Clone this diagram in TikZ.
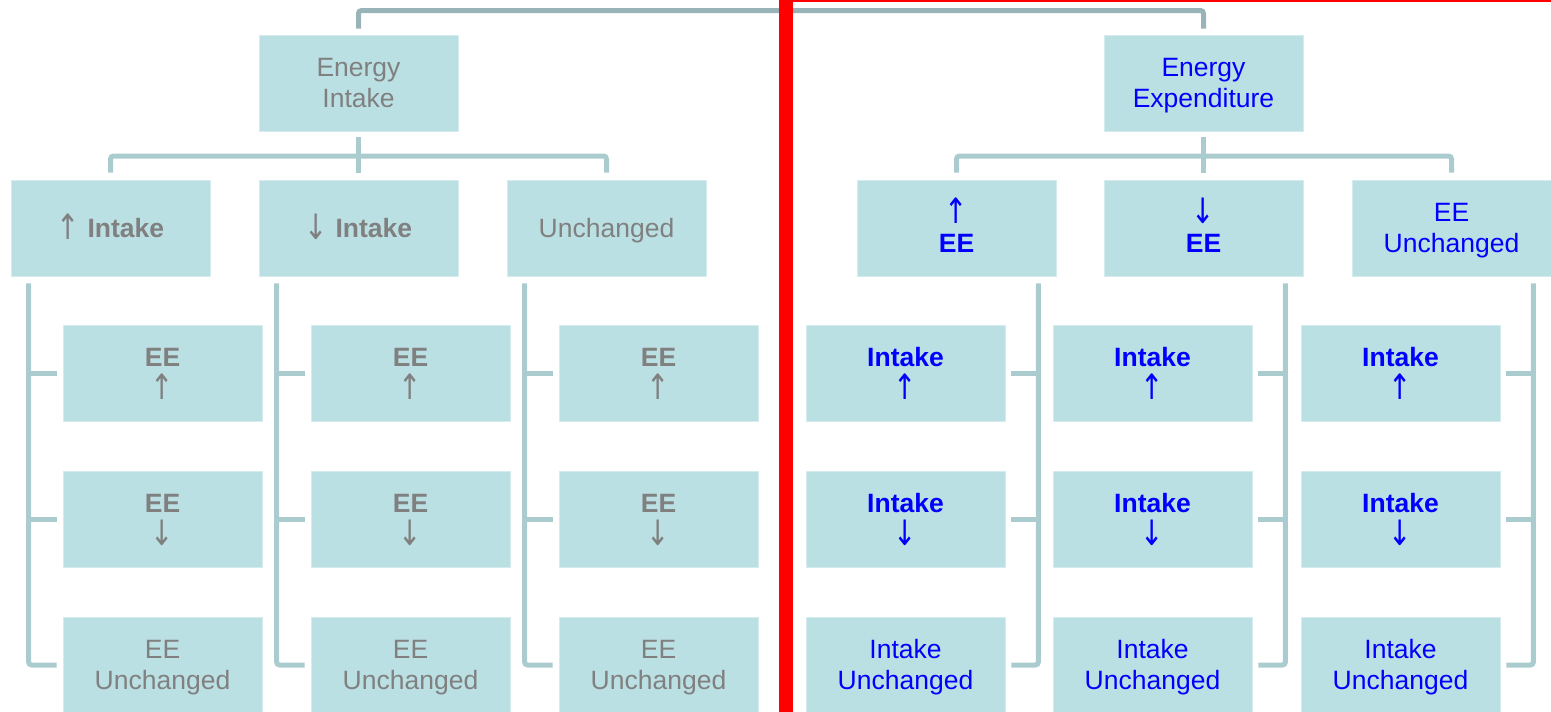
\documentclass[tikz,border=0pt]{standalone}
\usepackage{fontspec}
\usepackage{graphicx}
\setmainfont{Liberation Sans}
\newfontfamily\arrowfont{DejaVu Sans}
\usetikzlibrary{calc}

\definecolor{boxfill}{RGB}{187,224,227}
\definecolor{boxedge}{RGB}{212,236,238}
\definecolor{linkc}{RGB}{170,204,207}
\definecolor{toplinkc}{RGB}{152,180,184}
\definecolor{greytext}{RGB}{128,128,128}
\definecolor{bluetext}{RGB}{0,0,255}
\definecolor{divider}{RGB}{255,0,0}

% every line counts as cap height only, so text is centred on its capitals
\newcommand\cl[1]{\raisebox{0pt}[18.6pt][0pt]{#1}}
\newcommand\uar{\raisebox{-2pt}{\scalebox{1.05}[1.32]{\arrowfont ↑}}}
\newcommand\dar{\raisebox{-2pt}{\scalebox{1.05}[1.32]{\arrowfont ↓}}}

\tikzset{
  box/.style={rectangle, fill=boxfill, draw=boxedge, line width=0.8pt,
    minimum width=199pt, minimum height=96pt, inner sep=0pt, align=center,
    font=\fontsize{26.5}{31}\selectfont},
  grey/.style={text=greytext},
  blue/.style={text=bluetext},
  link/.style={draw=linkc, line width=5pt, rounded corners=3pt},
  toplink/.style={draw=toplinkc, line width=5pt, rounded corners=3pt},
}

\begin{document}
\begin{tikzpicture}[x=1pt,y=-1pt]
\useasboundingbox (0,0) rectangle (1551,712);

% root boxes
\node[box,grey] (ei) at (358.5,83) {\cl{Energy}\\\cl{Intake}};
\node[box,blue] (ee) at (1203.5,83) {\cl{Energy}\\\cl{Expenditure}};

% second level
\node[box,grey] (la) at (110.5,228) {\cl{\uar\ \textbf{Intake}}};
\node[box,grey] (lb) at (358.5,228) {\cl{\dar\ \textbf{Intake}}};
\node[box,grey] (lc) at (606.5,228) {\cl{Unchanged}};
\node[box,blue] (ra) at (956.5,228) {\cl{\uar}\\\cl{\textbf{EE}}};
\node[box,blue] (rb) at (1203.5,228) {\cl{\dar}\\\cl{\textbf{EE}}};
\node[box,blue] (rc) at (1451.5,228) {\cl{EE}\\\cl{Unchanged}};

% third level, intake side
\foreach \p in {la,lb,lc}{
  \node[box,grey] (\p1) at ($(\p)+(52,145)$) {\cl{\textbf{EE}}\\\cl{\uar}};
  \node[box,grey] (\p2) at ($(\p)+(52,291)$) {\cl{\textbf{EE}}\\\cl{\dar}};
  \node[box,grey] (\p3) at ($(\p)+(52,437)$) {\cl{EE}\\\cl{Unchanged}};
  \coordinate (\p bar) at ([xshift=18pt]\p.south west);
  \draw[link] ([yshift=-7pt]\p bar) |- ([xshift=-6pt]\p3.west);
  \draw[link] (\p bar |- \p1.west) -- ([xshift=-6pt]\p1.west);
  \draw[link] (\p bar |- \p2.west) -- ([xshift=-6pt]\p2.west);
}

% third level, expenditure side
\foreach \p in {ra,rb,rc}{
  \node[box,blue] (\p1) at ($(\p)+(-51,145)$) {\cl{\textbf{Intake}}\\\cl{\uar}};
  \node[box,blue] (\p2) at ($(\p)+(-51,291)$) {\cl{\textbf{Intake}}\\\cl{\dar}};
  \node[box,blue] (\p3) at ($(\p)+(-51,437)$) {\cl{Intake}\\\cl{Unchanged}};
  \coordinate (\p bar) at ([xshift=-18pt]\p.south east);
  \draw[link] ([yshift=-7pt]\p bar) |- ([xshift=6pt]\p3.east);
  \draw[link] (\p bar |- \p1.east) -- ([xshift=6pt]\p1.east);
  \draw[link] (\p bar |- \p2.east) -- ([xshift=6pt]\p2.east);
}

% root to second level
\coordinate (midbar) at (0,156);
\draw[link] ([yshift=-6pt]ei.south) -- ([yshift=7pt]lb.north);
\draw[link] ([yshift=7pt]la.north) -- (la.north |- midbar) -- (lc.north |- midbar) -- ([yshift=7pt]lc.north);
\draw[link] ([yshift=-6pt]ee.south) -- ([yshift=7pt]rb.north);
\draw[link] ([yshift=7pt]ra.north) -- (ra.north |- midbar) -- (rc.north |- midbar) -- ([yshift=7pt]rc.north);

% bar joining the two roots
\coordinate (topbar) at (0,10.5);
\draw[toplink] ([yshift=6pt]ei.north) -- (ei.north |- topbar) -- (ee.north |- topbar) -- ([yshift=6pt]ee.north);

% red divider
\fill[divider] (779,0) rectangle (792.5,712);
\fill[divider] (792,0) rectangle (1551,1.7);
\end{tikzpicture}
\end{document}
